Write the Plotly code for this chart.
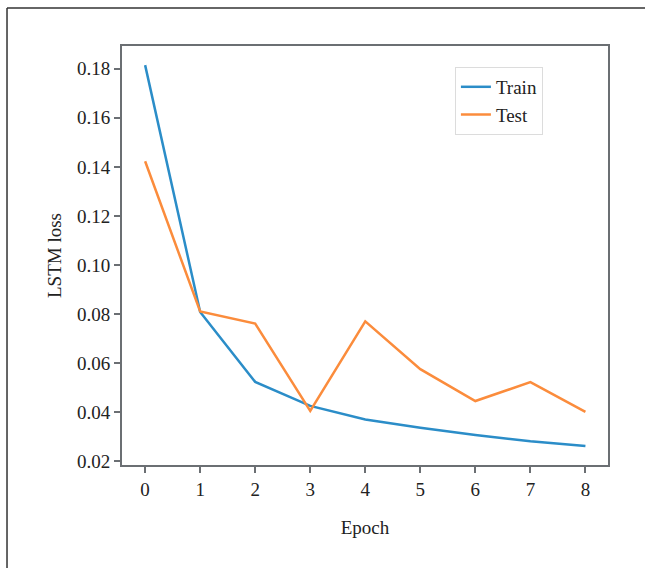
import plotly.graph_objects as go

epochs = [0, 1, 2, 3, 4, 5, 6, 7, 8]
train_loss = [0.1815, 0.0808, 0.0523, 0.0425, 0.0370, 0.0336, 0.0306, 0.0281, 0.0261]
test_loss = [0.1423, 0.0810, 0.0761, 0.0405, 0.0770, 0.0575, 0.0445, 0.0522, 0.0401]
y_ticks = [0.02, 0.04, 0.06, 0.08, 0.10, 0.12, 0.14, 0.16, 0.18]
x_ticks = [0, 1, 2, 3, 4, 5, 6, 7, 8]

FONT = "Liberation Serif, Times New Roman, serif"
AX = "#6b6f73"

fig = go.Figure()
fig.add_trace(go.Scatter(x=epochs, y=train_loss, mode="lines", name="Train",
                         line=dict(color="#2b8dc8", width=2.5)))
fig.add_trace(go.Scatter(x=epochs, y=test_loss, mode="lines", name="Test",
                         line=dict(color="#fb8c3c", width=2.5)))

fig.update_layout(
    width=645, height=568,
    margin=dict(l=122, r=37, t=46, b=103),
    paper_bgcolor="white", plot_bgcolor="white",
    font=dict(family=FONT, size=19, color="#222222"),
    showlegend=True,
    legend=dict(x=0.685, y=0.95, xanchor="left", yanchor="top",
                bordercolor="#dcdcdc", borderwidth=1, bgcolor="white",
                font=dict(family=FONT, size=19, color="#222222"),
                tracegroupgap=0, itemwidth=30),
    xaxis=dict(range=[-0.42, 8.41], tickvals=x_ticks, ticktext=[str(v) for v in x_ticks],
               showgrid=False, zeroline=False, showline=True, mirror=True,
               linecolor=AX, linewidth=2, ticks="outside", ticklen=6, tickwidth=1.5,
               tickcolor=AX, title=dict(text="Epoch", standoff=22,
                                         font=dict(family=FONT, size=19))),
    yaxis=dict(range=[0.0184, 0.1893], tickvals=y_ticks,
               ticktext=[f"{v:.2f}" for v in y_ticks],
               showgrid=False, zeroline=False, showline=True, mirror=True,
               linecolor=AX, linewidth=2, ticks="outside", ticklen=6, tickwidth=1.5,
               tickcolor=AX, title=dict(text="LSTM loss", standoff=10,
                                         font=dict(family=FONT, size=19))),
)

# outer frame lines (top and left visible)
fig.add_shape(type="line", xref="paper", yref="paper",
              x0=-0.2366, x1=1.2, y0=1.0907, y1=1.0907,
              line=dict(color="#333333", width=1.5))
fig.add_shape(type="line", xref="paper", yref="paper",
              x0=-0.2366, x1=-0.2366, y0=1.0907, y1=-0.4,
              line=dict(color="#333333", width=1.5))

fig.write_html("out.html")
